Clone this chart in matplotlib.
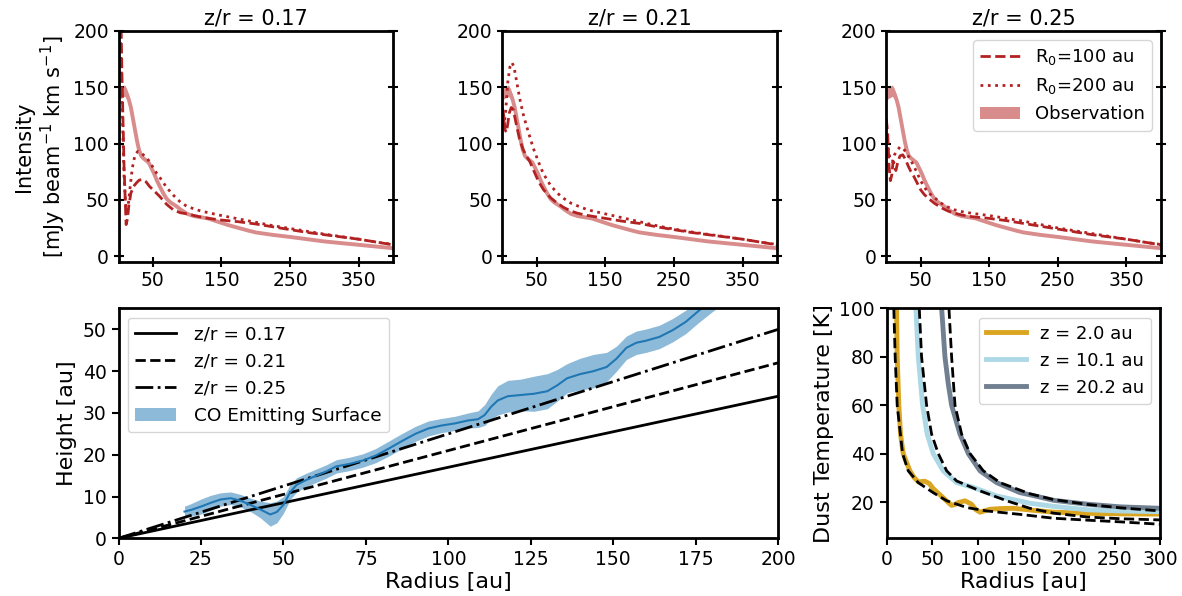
import matplotlib
matplotlib.use("Agg")
import matplotlib.pyplot as plt
from matplotlib.patches import Patch

# ---------------- data: top row (intensity profiles) ----------------
titles = ["z/r = 0.17", "z/r = 0.21", "z/r = 0.25"]

r_obs = [0, 3, 6, 9, 12, 15, 18, 21, 24, 27, 30, 33, 36, 40, 44, 48, 52, 56, 60,
         65, 70, 75, 80, 85, 90, 95, 100, 110, 120, 130, 140, 150, 160, 175, 190,
         200, 225, 250, 275, 300, 325, 350, 375, 400]
I_obs = [143, 145, 146, 147, 144, 139, 132, 122, 112, 102, 94, 89, 87, 85, 83, 78,
         73, 67, 62, 56, 51, 48, 46, 44, 41.5, 39.5, 37.5, 35.5, 34.5, 33.5, 31.5, 29.5,
         27.5, 25, 22.5, 21, 18.8, 17, 15, 13, 11.5, 10, 8.5, 7]
I_err = [5, 5, 5, 5, 4.5, 3.5, 2.5, 1.5, 1.2, 1.2, 1.2, 1.2, 1.2, 1.5, 1.8, 1.8,
         1.5, 1.2, 1, 1, 1, 0.8, 0.8, 0.8, 0.6, 0.6, 0.5, 0.5, 0.5, 0.5, 0.5, 0.4,
         0.4, 0.3, 0.3, 0.2, 0.2, 0.2, 0.1, 0.1, 0.1, 0.1, 0.1, 0.1]

# R0 = 100 au model (dashed), one per panel
r_m100 = [
    [3, 5, 8, 11, 13, 15, 18, 22, 26, 30, 35, 40, 45, 50, 60, 70, 80, 90, 100,
     110, 125, 150, 175, 200, 225, 250, 275, 300, 325, 350, 375, 400],
    [0, 2, 4, 6, 8, 10, 13, 16, 20, 25, 30, 35, 40, 45, 50, 55, 60, 70, 80, 90,
     100, 110, 125, 150, 175, 200, 225, 250, 275, 300, 325, 350, 375, 400],
    [0, 2, 4, 6, 8, 10, 12, 14, 17, 20, 24, 28, 32, 36, 40, 45, 50, 55, 60, 70,
     80, 90, 100, 110, 125, 150, 175, 200, 225, 250, 275, 300, 325, 350, 375, 400],
]
I_m100 = [
    [230, 160, 80, 28, 33, 45, 56, 62, 65, 67.5, 68, 66, 62, 59, 53, 46, 41, 38.5,
     37.5, 36, 34, 32, 30.5, 28.5, 26, 23.5, 21, 19, 17, 15, 12.5, 10],
    [132, 125, 112, 110, 118, 127, 132, 130, 118, 104, 95, 89, 84, 77, 70, 64, 59,
     52, 47, 43, 40, 38, 36, 33.5, 31, 29, 26, 23.5, 21, 19, 17, 15, 12.5, 10],
    [122, 110, 80, 67, 72, 84, 82, 76, 84, 89, 90, 86, 80, 75, 71, 65, 59, 55, 52,
     47, 43, 40, 38, 36.5, 35, 33.5, 31.5, 29, 26.5, 24, 21.5, 19, 17, 15, 12.5, 10],
]
# R0 = 200 au model (dotted)
r_m200 = [
    [3, 5, 8, 11, 14, 17, 20, 24, 28, 32, 36, 40, 45, 50, 55, 60, 70, 80, 90, 100,
     120, 150, 175, 200, 225, 250, 275, 300, 325, 350, 375, 400],
    [0, 3, 5, 8, 11, 14, 17, 20, 25, 30, 35, 40, 45, 50, 55, 60, 70, 80, 90, 100,
     110, 125, 150, 175, 200, 225, 250, 275, 300, 325, 350, 375, 400],
    [0, 3, 6, 9, 12, 16, 20, 24, 28, 32, 36, 40, 45, 50, 55, 60, 70, 80, 90, 100,
     110, 125, 150, 175, 200, 225, 250, 275, 300, 325, 350, 375, 400],
]
I_m200 = [
    [190, 140, 70, 40, 45, 62, 78, 90, 93, 92, 90, 88, 84, 79, 74, 70, 61, 54, 48,
     44, 40, 36, 33, 30, 27, 24.5, 22, 19.5, 17.3, 15, 12.5, 10.3],
    [128, 118, 130, 155, 168, 172, 168, 158, 141, 127, 116, 106, 96, 88, 80, 73, 63,
     56, 51, 47, 44.5, 41, 37.5, 34, 30.5, 27, 24, 21.5, 19.3, 17.2, 15, 12.5, 10.3],
    [103, 95, 85, 84, 90, 94, 97, 96, 93, 89, 85, 80, 74, 67, 62, 57, 52, 47, 43.5,
     41, 39.5, 38, 36, 33.5, 31, 28, 25, 22.5, 20, 17.5, 15, 12.5, 10.3],
]
top_xticks = [50, 150, 250, 350]
top_yticks = [0, 50, 100, 150, 200]

# ---------------- data: bottom left (emitting surface) ----------------
r_co = [20, 22, 25, 28, 31, 34, 37, 40, 43, 46, 48, 50, 52, 54, 57, 60, 63, 66, 70,
        74, 78, 82, 86, 90, 94, 98, 102, 106, 109, 111, 113, 115, 118, 122, 126, 130,
        133, 136, 140, 144, 148, 151, 154, 157, 160, 164, 168, 172, 176, 180, 185]
z_co = [6.4, 6.8, 7.6, 8.5, 9.3, 9.6, 9.0, 8.0, 6.9, 5.7, 6.3, 8.0, 11.0, 12.8, 14.0,
        15.0, 16.0, 17.2, 17.8, 18.6, 19.8, 21.5, 23.3, 25.0, 26.3, 27.0, 27.5, 28.2,
        28.5, 29.5, 31.5, 33.0, 34.0, 34.3, 34.6, 35.2, 36.6, 38.3, 39.3, 40.0, 41.0,
        43.0, 45.6, 46.8, 47.3, 48.2, 49.8, 51.8, 54.5, 57.0, 60.0]
z_err = [1.3, 1.5, 1.8, 1.8, 1.6, 1.5, 1.5, 1.6, 2.0, 2.8, 2.6, 2.0, 1.8, 1.7, 1.6,
         1.6, 1.6, 1.6, 1.6, 1.6, 1.7, 1.8, 1.8, 1.8, 1.8, 1.7, 1.7, 1.8, 2.0, 2.5,
         3.0, 3.5, 3.8, 3.8, 4.2, 4.2, 3.8, 3.5, 3.8, 4.0, 3.5, 3.0, 2.8, 2.8, 2.8,
         2.8, 2.8, 2.8, 2.8, 2.8, 2.8]
zr_values = [0.17, 0.21, 0.25]
zr_labels = ["z/r = 0.17", "z/r = 0.21", "z/r = 0.25"]
zr_styles = ["-", "--", "-."]
r_line = [0, 200]

# ---------------- data: bottom right (dust temperature) ----------------
T_labels = ["z = 2.0 au", "z = 10.1 au", "z = 20.2 au"]
T_colors = ["goldenrod", "lightblue", "slategray"]
r_T = [
    [11, 11.7, 13.5, 15.4, 18.3, 25.6, 30, 35, 42, 47, 51, 57, 62, 67, 71.3, 75, 78.7,
     86, 93, 98, 102.4, 107, 113, 125, 139, 160, 183, 220, 256, 300],
    [32.2, 34.8, 39.5, 44.6, 51.2, 62, 76.8, 95, 120.7, 157, 183, 220, 256, 300],
    [60.4, 64, 67.7, 71.3, 80.5, 89.6, 102.4, 120.7, 146, 157, 183, 220, 256, 300],
]
T_dust = [
    [100, 80, 60, 48, 40, 32.9, 30.2, 28.3, 28.6, 27.6, 25.6, 23.5, 21.8, 20.0, 18.6,
     19.0, 19.8, 20.5, 19.1, 16.8, 15.8, 16.3, 17.0, 17.3, 17.4, 16.6, 15.8, 15.3,
     15.1, 15.0],
    [100, 80, 60, 48, 40, 32.9, 28.0, 26.0, 22.5, 19.5, 18.2, 16.8, 16.3, 16.0],
    [100, 80, 68.7, 60, 48, 40, 32.9, 28.0, 23.9, 23.0, 20.7, 19.1, 18.0, 17.4],
]
r_fit = [
    [8, 9.5, 11.7, 17.6, 23.8, 34.8, 51, 66, 88, 110, 146, 183, 220, 256, 300],
    [35.9, 38.4, 43.9, 49.4, 56.7, 65.9, 76.8, 102.4, 131.7, 157, 183, 220, 256, 300],
    [68.4, 71.3, 75, 82.3, 91.5, 106, 124.4, 157, 183, 220, 256, 300],
]
T_fit = [
    [100, 80, 60, 40, 32.9, 28.0, 23.9, 20.5, 17.7, 16.3, 14.9, 13.3, 12.5, 11.8, 10.8],
    [100, 80, 60, 48, 40, 32.9, 28.7, 24.6, 20.5, 17.4, 15.4, 13.8, 13.1, 12.6],
    [100, 80, 60, 48, 40, 32.9, 28.0, 23.4, 21.0, 19.0, 17.6, 16.3],
]

# ---------------- figure ----------------
plt.rcParams['font.family'] = ['DejaVu Sans']
plt.rcParams['axes.linewidth'] = 2.0
TICK = 13.5
LAB = 16

fig = plt.figure(figsize=(11.82, 5.96), dpi=100)

top_lefts = [0.1003, 0.4250, 0.7498]
top_w = 0.2322
top_b, top_h = 0.5609, 0.3871
red = "firebrick"
obs_col = "#d98c8c"   # firebrick at 50 % on white

for i in range(3):
    ax = fig.add_axes([top_lefts[i], top_b, top_w, top_h])
    lo = [m - e for m, e in zip(I_obs, I_err)]
    hi = [m + e for m, e in zip(I_obs, I_err)]
    ax.fill_between(r_obs, lo, hi, color=obs_col, lw=0)
    ax.plot(r_obs, I_obs, color=obs_col, lw=2.8, solid_capstyle="butt")
    ax.plot(r_m100[i], I_m100[i], ls="--", color=red, lw=2.0)
    ax.plot(r_m200[i], I_m200[i], ls=":", color=red, lw=2.0)
    ax.set_xlim(0, 400)
    ax.set_ylim(-5, 200)
    ax.set_xticks(top_xticks)
    ax.set_yticks(top_yticks)
    ax.tick_params(direction="inout", length=7, width=1.5, labelsize=TICK,
                   right=True)
    ax.set_title(titles[i], fontsize=15, pad=5)
    if i == 0:
        ax.set_ylabel("Intensity\n[mJy beam$^{-1}$ km s$^{-1}$]", fontsize=15,
                      labelpad=4)
    if i == 2:
        handles = [
            plt.Line2D([], [], ls="--", color=red, lw=2.0),
            plt.Line2D([], [], ls=":", color=red, lw=2.0),
            Patch(facecolor=obs_col, lw=0),
        ]
        ax.legend(handles, ["R$_0$=100 au", "R$_0$=200 au", "Observation"],
                  loc="upper right", fontsize=13, handlelength=2.2)

# bottom left
ax = fig.add_axes([0.1003, 0.0968, 0.5580, 0.3856])
for zr, lab, ls in zip(zr_values, zr_labels, zr_styles):
    ax.plot(r_line, [zr * r for r in r_line], ls=ls, color="k", lw=2.0, label=lab)
lo = [z - e for z, e in zip(z_co, z_err)]
hi = [z + e for z, e in zip(z_co, z_err)]
ax.fill_between(r_co, lo, hi, color="C0", alpha=0.5, lw=0,
                label="CO Emitting Surface")
ax.plot(r_co, z_co, color="C0", lw=1.5)
ax.set_xlim(0, 200)
ax.set_ylim(0, 55)
ax.set_xticks([0, 25, 50, 75, 100, 125, 150, 175, 200])
ax.set_yticks([0, 10, 20, 30, 40, 50])
ax.tick_params(width=1.5, length=5, labelsize=TICK)
ax.set_xlabel("Radius [au]", fontsize=LAB, labelpad=2)
ax.set_ylabel("Height [au]", fontsize=LAB)
ax.legend(loc="upper left", fontsize=13.3, handlelength=2.2, handletextpad=1.0)

# bottom right
ax = fig.add_axes([0.7500, 0.0968, 0.2318, 0.3856])
for r, T, lab, c in zip(r_T, T_dust, T_labels, T_colors):
    ax.plot(r, T, color=c, lw=3.5, label=lab)
for r, T in zip(r_fit, T_fit):
    ax.plot(r, T, ls="--", color="k", lw=2.0)
ax.set_xlim(0, 300)
ax.set_ylim(5, 100)
ax.set_xticks([0, 50, 100, 150, 200, 250, 300])
ax.set_yticks([20, 40, 60, 80, 100])
ax.tick_params(width=1.5, length=5, labelsize=TICK)
ax.set_xlabel("Radius [au]", fontsize=LAB, labelpad=2)
ax.set_ylabel("Dust Temperature [K]", fontsize=LAB)
ax.legend(loc="upper right", fontsize=13, handlelength=2.2)

fig.savefig("out.png", dpi=100)
